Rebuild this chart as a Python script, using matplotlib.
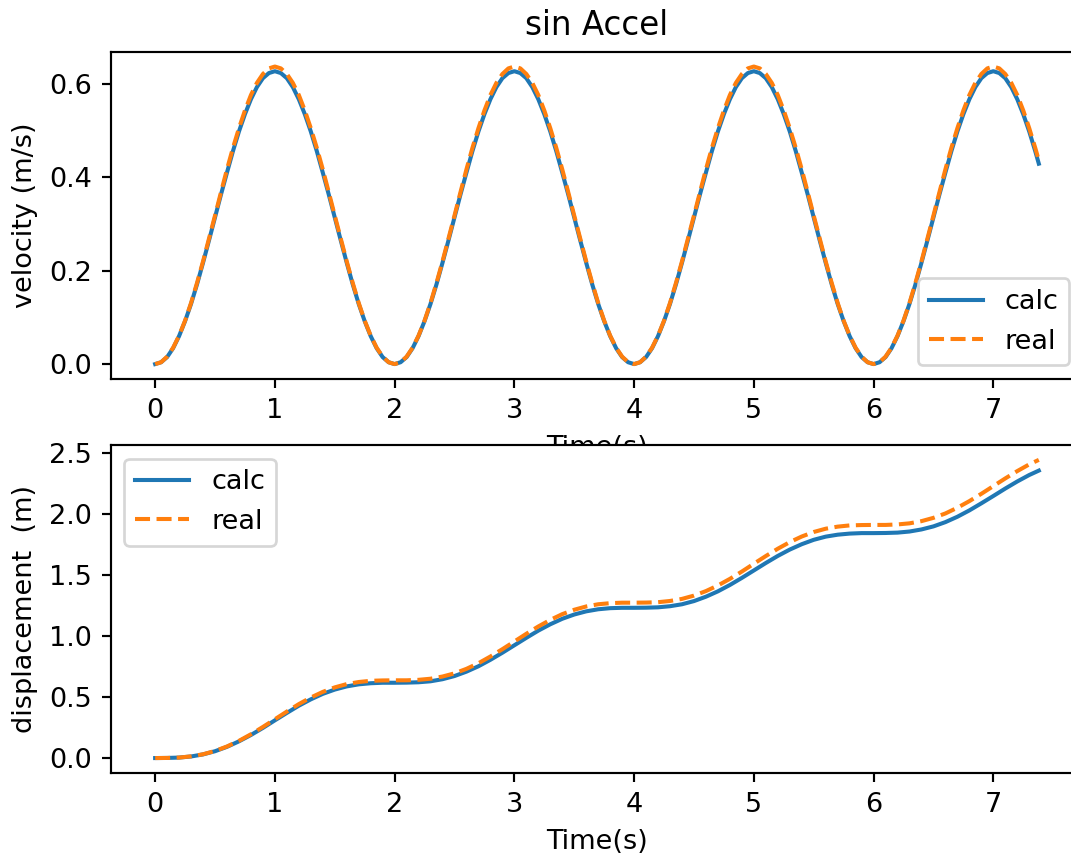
import matplotlib
matplotlib.use("Agg")
import matplotlib.pyplot as plt

# time samples for the velocity plot (s)
t_vel = [0.00, 0.05, 0.10, 0.15, 0.20, 0.25, 0.30, 0.35, 0.40, 0.45,
         0.50, 0.55, 0.60, 0.65, 0.70, 0.75, 0.80, 0.85, 0.90, 0.95,
         1.00, 1.05, 1.10, 1.15, 1.20, 1.25, 1.30, 1.35, 1.40, 1.45,
         1.50, 1.55, 1.60, 1.65, 1.70, 1.75, 1.80, 1.85, 1.90, 1.95,
         2.00, 2.05, 2.10, 2.15, 2.20, 2.25, 2.30, 2.35, 2.40, 2.45,
         2.50, 2.55, 2.60, 2.65, 2.70, 2.75, 2.80, 2.85, 2.90, 2.95,
         3.00, 3.05, 3.10, 3.15, 3.20, 3.25, 3.30, 3.35, 3.40, 3.45,
         3.50, 3.55, 3.60, 3.65, 3.70, 3.75, 3.80, 3.85, 3.90, 3.95,
         4.00, 4.05, 4.10, 4.15, 4.20, 4.25, 4.30, 4.35, 4.40, 4.45,
         4.50, 4.55, 4.60, 4.65, 4.70, 4.75, 4.80, 4.85, 4.90, 4.95,
         5.00, 5.05, 5.10, 5.15, 5.20, 5.25, 5.30, 5.35, 5.40, 5.45,
         5.50, 5.55, 5.60, 5.65, 5.70, 5.75, 5.80, 5.85, 5.90, 5.95,
         6.00, 6.05, 6.10, 6.15, 6.20, 6.25, 6.30, 6.35, 6.40, 6.45,
         6.50, 6.55, 6.60, 6.65, 6.70, 6.75, 6.80, 6.85, 6.90, 6.95,
         7.00, 7.05, 7.10, 7.15, 7.20, 7.25, 7.30, 7.35, 7.38]

# velocity (m/s)
vel_calc = [0.000, 0.004, 0.015, 0.034, 0.060, 0.092, 0.129, 0.171, 0.217, 0.265,
            0.314, 0.363, 0.410, 0.456, 0.498, 0.535, 0.567, 0.593, 0.612, 0.623,
            0.627, 0.623, 0.612, 0.593, 0.567, 0.535, 0.498, 0.456, 0.410, 0.363,
            0.314, 0.265, 0.217, 0.171, 0.129, 0.092, 0.060, 0.034, 0.015, 0.004,
            0.000, 0.004, 0.015, 0.034, 0.060, 0.092, 0.129, 0.171, 0.217, 0.265,
            0.314, 0.363, 0.410, 0.456, 0.498, 0.535, 0.567, 0.593, 0.612, 0.623,
            0.627, 0.623, 0.612, 0.593, 0.567, 0.535, 0.498, 0.456, 0.410, 0.363,
            0.314, 0.265, 0.217, 0.171, 0.129, 0.092, 0.060, 0.034, 0.015, 0.004,
            0.000, 0.004, 0.015, 0.034, 0.060, 0.092, 0.129, 0.171, 0.217, 0.265,
            0.314, 0.363, 0.410, 0.456, 0.498, 0.535, 0.567, 0.593, 0.612, 0.623,
            0.627, 0.623, 0.612, 0.593, 0.567, 0.535, 0.498, 0.456, 0.410, 0.363,
            0.314, 0.265, 0.217, 0.171, 0.129, 0.092, 0.060, 0.034, 0.015, 0.004,
            0.000, 0.004, 0.015, 0.034, 0.060, 0.092, 0.129, 0.171, 0.217, 0.265,
            0.314, 0.363, 0.410, 0.456, 0.498, 0.535, 0.567, 0.593, 0.612, 0.623,
            0.627, 0.623, 0.612, 0.593, 0.567, 0.535, 0.498, 0.456, 0.429]
vel_real = [0.000, 0.004, 0.016, 0.035, 0.061, 0.093, 0.131, 0.174, 0.220, 0.269,
            0.318, 0.368, 0.417, 0.463, 0.505, 0.543, 0.576, 0.602, 0.621, 0.633,
            0.637, 0.633, 0.621, 0.602, 0.576, 0.543, 0.505, 0.463, 0.417, 0.368,
            0.318, 0.269, 0.220, 0.174, 0.131, 0.093, 0.061, 0.035, 0.016, 0.004,
            0.000, 0.004, 0.016, 0.035, 0.061, 0.093, 0.131, 0.174, 0.220, 0.269,
            0.318, 0.368, 0.417, 0.463, 0.505, 0.543, 0.576, 0.602, 0.621, 0.633,
            0.637, 0.633, 0.621, 0.602, 0.576, 0.543, 0.505, 0.463, 0.417, 0.368,
            0.318, 0.269, 0.220, 0.174, 0.131, 0.093, 0.061, 0.035, 0.016, 0.004,
            0.000, 0.004, 0.016, 0.035, 0.061, 0.093, 0.131, 0.174, 0.220, 0.269,
            0.318, 0.368, 0.417, 0.463, 0.505, 0.543, 0.576, 0.602, 0.621, 0.633,
            0.637, 0.633, 0.621, 0.602, 0.576, 0.543, 0.505, 0.463, 0.417, 0.368,
            0.318, 0.269, 0.220, 0.174, 0.131, 0.093, 0.061, 0.035, 0.016, 0.004,
            0.000, 0.004, 0.016, 0.035, 0.061, 0.093, 0.131, 0.174, 0.220, 0.269,
            0.318, 0.368, 0.417, 0.463, 0.505, 0.543, 0.576, 0.602, 0.621, 0.633,
            0.637, 0.633, 0.621, 0.602, 0.576, 0.543, 0.505, 0.463, 0.436]

# time samples for the displacement plot (s)
t_disp = [0.0, 0.1, 0.2, 0.3, 0.4, 0.5, 0.6, 0.7, 0.8, 0.9,
          1.0, 1.1, 1.2, 1.3, 1.4, 1.5, 1.6, 1.7, 1.8, 1.9,
          2.0, 2.1, 2.2, 2.3, 2.4, 2.5, 2.6, 2.7, 2.8, 2.9,
          3.0, 3.1, 3.2, 3.3, 3.4, 3.5, 3.6, 3.7, 3.8, 3.9,
          4.0, 4.1, 4.2, 4.3, 4.4, 4.5, 4.6, 4.7, 4.8, 4.9,
          5.0, 5.1, 5.2, 5.3, 5.4, 5.5, 5.6, 5.7, 5.8, 5.9,
          6.0, 6.1, 6.2, 6.3, 6.4, 6.5, 6.6, 6.7, 6.8, 6.9,
          7.0, 7.1, 7.2, 7.3, 7.38]

# displacement (m)
disp_calc = [0.000, 0.001, 0.004, 0.013, 0.030, 0.056, 0.092, 0.137, 0.189, 0.247,
             0.309, 0.370, 0.429, 0.481, 0.526, 0.561, 0.587, 0.604, 0.613, 0.617,
             0.617, 0.618, 0.621, 0.629, 0.646, 0.672, 0.708, 0.752, 0.805, 0.863,
             0.924, 0.985, 1.044, 1.096, 1.141, 1.176, 1.202, 1.219, 1.228, 1.231,
             1.231, 1.232, 1.235, 1.244, 1.260, 1.286, 1.322, 1.366, 1.418, 1.476,
             1.537, 1.598, 1.656, 1.708, 1.752, 1.788, 1.814, 1.830, 1.839, 1.843,
             1.843, 1.844, 1.847, 1.856, 1.873, 1.898, 1.933, 1.977, 2.029, 2.087,
             2.147, 2.208, 2.266, 2.319, 2.355]
disp_real = [0.000, 0.001, 0.004, 0.014, 0.031, 0.058, 0.095, 0.141, 0.195, 0.255,
             0.318, 0.381, 0.442, 0.496, 0.542, 0.579, 0.606, 0.623, 0.633, 0.636,
             0.637, 0.637, 0.641, 0.650, 0.668, 0.694, 0.731, 0.777, 0.832, 0.892,
             0.955, 1.018, 1.078, 1.132, 1.179, 1.215, 1.242, 1.260, 1.269, 1.273,
             1.273, 1.274, 1.277, 1.287, 1.304, 1.331, 1.368, 1.414, 1.468, 1.528,
             1.592, 1.655, 1.715, 1.769, 1.815, 1.852, 1.879, 1.896, 1.906, 1.909,
             1.910, 1.910, 1.914, 1.923, 1.941, 1.968, 2.004, 2.051, 2.105, 2.165,
             2.228, 2.291, 2.351, 2.406, 2.443]

fig = plt.figure(figsize=(1071 / 195, 858 / 195), dpi=195)

# axes run past the right edge, like the cropped original
ax1 = fig.add_axes([0.1036, 0.5583, 0.9076, 0.3815])
ax2 = fig.add_axes([0.1036, 0.0991, 0.9076, 0.3823])

ax1.plot(t_vel, vel_calc, label="calc")
ax1.plot(t_vel, vel_real, "--", label="real")
ax1.set_title("sin Accel")
ax1.set_xlabel("Time(s)")
ax1.set_ylabel("velocity (m/s)")
ax1.legend(loc="lower right")

ax2.plot(t_disp, disp_calc, label="calc")
ax2.plot(t_disp, disp_real, "--", label="real")
ax2.set_xlabel("Time(s)")
ax2.set_ylabel("displacement  (m)")
ax2.legend(loc="upper left")

fig.savefig("out.png", dpi=195)
